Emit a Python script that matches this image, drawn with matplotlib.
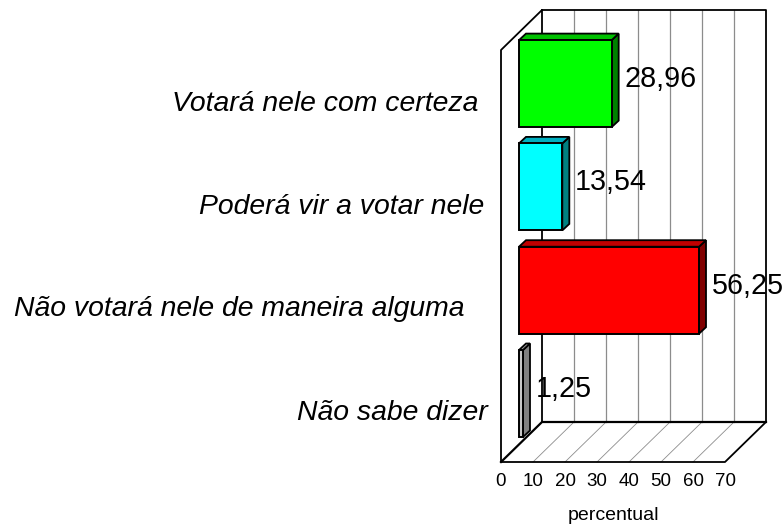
import matplotlib
matplotlib.use('Agg')
import matplotlib.pyplot as plt
from matplotlib.patches import Polygon

plt.rcParams['font.family'] = ['Liberation Sans', 'DejaVu Sans']

# Data (bottom to top)
categories = ['Não sabe dizer', 'Não votará nele de maneira alguma',
              'Poderá vir a votar nele', 'Votará nele com certeza']
values = [1.25, 56.25, 13.54, 28.96]
value_labels = ['1,25', '56,25', '13,54', '28,96']
ticks = [0, 10, 20, 30, 40, 50, 60, 70]

front_colors = ['#c8c8c8', '#ff0000', '#00ffff', '#00ff00']
side_colors = ['#808080', '#800000', '#008080', '#008000']
top_colors = ['#a0a0a0', '#c00000', '#00b0c0', '#00c000']

# Pixel layout of the fake 3D box
PX_X = 3.2      # px per percent
PX_Y = 103.3    # px per category
X0_PX = 501
Y0_PX = 393.5
W, H = 784, 526
DEPTH_PX = 41

fig = plt.figure(figsize=(7.84, 5.26), dpi=100)
ax = fig.add_axes([0, 0, 1, 1])
ax.set_xlim(-X0_PX / PX_X, (W - X0_PX) / PX_X)
ax.set_ylim(-(H - Y0_PX) / PX_Y, Y0_PX / PX_Y)
ax.axis('off')

dx = DEPTH_PX / PX_X
dy = 40 / PX_Y
y_front = -(462 - Y0_PX) / PX_Y
y_top = (Y0_PX - 50) / PX_Y
xmax = ticks[-1]

# grid on the back wall and floor
for t in ticks[1:-1]:
    ax.plot([t + dx, t + dx], [y_front + dy, y_top + dy], color='#8c8c8c', lw=0.9, zorder=1)
    ax.plot([t, t + dx], [y_front, y_front + dy], color='#8c8c8c', lw=0.6, zorder=1)

# box outline
ax.plot([dx, dx + xmax, dx + xmax, xmax, 0, 0, dx, dx],
        [y_top + dy, y_top + dy, y_front + dy, y_front, y_front, y_top, y_top + dy, y_front + dy],
        color='black', lw=1.3, zorder=2, solid_joinstyle='round')
ax.plot([0, dx, dx + xmax], [y_front, y_front + dy, y_front + dy], color='black', lw=1.6, zorder=2)

# bars
bar_h = 87 / PX_Y
bar_start = 18 / PX_X
bx = 7 / PX_X
by = 6.5 / PX_Y
for i, v in enumerate(values):
    right = bar_start + v
    top = i + bar_h / 2
    bottom = i - bar_h / 2
    ax.add_patch(Polygon([(right, bottom), (right + bx, bottom + by), (right + bx, top + by), (right, top)],
                         fc=side_colors[i], ec='black', lw=1.3, zorder=3))
    ax.add_patch(Polygon([(bar_start, top), (bar_start + bx, top + by), (right + bx, top + by), (right, top)],
                         fc=top_colors[i], ec='black', lw=1.3, zorder=3))
    ax.barh(i, v, height=bar_h, left=bar_start, color=front_colors[i],
            edgecolor='black', linewidth=1.4, zorder=4)
    ax.annotate(value_labels[i], (right, i), xytext=(12.5, 4.5), textcoords='offset pixels',
                fontsize=20.7, ha='left', va='center', zorder=5)

# category labels
label_right = [488, 465, 484, 478]
label_shift = [19.5, 19, 20, 20]
for i, c in enumerate(categories):
    ax.text((label_right[i] - X0_PX) / PX_X, i - label_shift[i] / PX_Y, c, fontsize=20.4,
            style='italic', ha='right', va='center')

# axis tick labels
for t in ticks:
    ax.text(t, -(482 - Y0_PX) / PX_Y, str(t), fontsize=13.5, ha='center', va='center')
ax.text(35, -(515 - Y0_PX) / PX_Y, 'percentual', fontsize=14, ha='center', va='center')

fig.savefig('out.png', dpi=100)
